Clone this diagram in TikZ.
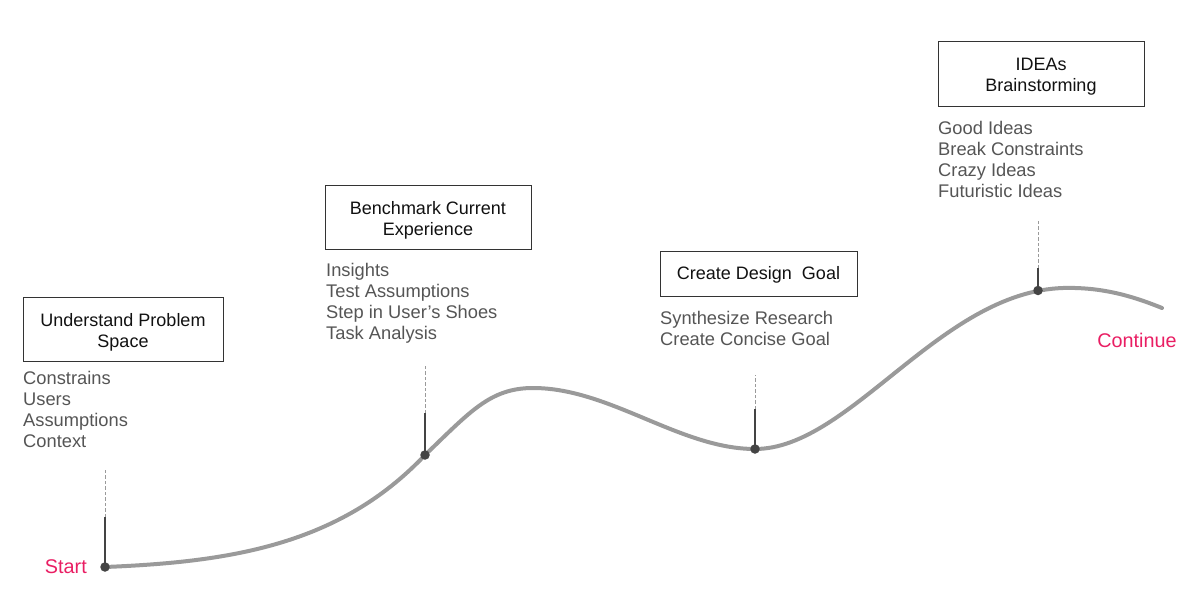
\documentclass[tikz,border=0pt]{standalone}
\usepackage{fontspec}
\setmainfont{Liberation Sans}
\definecolor{curvecol}{HTML}{9A9A9A}
\definecolor{stemcol}{HTML}{444444}
\definecolor{dashcol}{HTML}{9A9A9A}
\definecolor{boxtext}{HTML}{111111}
\definecolor{listtext}{HTML}{555555}
\definecolor{pinkcol}{HTML}{E91E63}
\definecolor{boxline}{HTML}{333333}
\begin{document}
\begin{tikzpicture}[x=1pt,y=-1pt,
  stagebox/.style={draw=boxline, line width=1pt, inner sep=0pt},
  stagetext/.style={align=center, inner sep=0pt,
    font=\fontsize{18}{21}\selectfont, text=boxtext},
  itemlist/.style={anchor=north west, align=left, inner sep=0pt,
    font=\fontsize{18.3}{21}\selectfont, text=listtext},
  endlabel/.style={inner sep=0pt, font=\fontsize{19.8}{22}\selectfont, text=pinkcol},
  curveline/.style={draw=curvecol, line width=4pt, line cap=round},
  stemline/.style={draw=stemcol, line width=2pt},
  dashline/.style={draw=dashcol, line width=1pt, dash pattern=on 3.5pt off 2pt},
  dotmark/.style={circle, fill=stemcol, inner sep=0pt, minimum size=9.5pt}]
\useasboundingbox (0,0) rectangle (1200,610);

% boxes
\node[stagebox, minimum width=200pt, minimum height=64pt] (b1) at (123,329) {};
\node[stagebox, minimum width=206pt, minimum height=64pt] (b2) at (428,217) {};
\node[stagebox, minimum width=197pt, minimum height=45pt] (b3) at (758.5,273.5) {};
\node[stagebox, minimum width=206pt, minimum height=64pt] (b4) at (1041,74) {};
\node[stagetext, yshift=-3pt] (t1) at (b1) {Understand Problem\\Space};
\node[stagetext, yshift=-3pt] (t2) at (b2) {Benchmark Current\\Experience};
\node[stagetext, yshift=-1.5pt] (t3) at (b3) {Create Design\ \ Goal};
\node[stagetext, yshift=-3pt] (t4) at (b4) {IDEAs\\Brainstorming};

% lists
\node[itemlist] (l1) at (23,371.2) {Constrains\\Users\\Assumptions\\Context};
\node[itemlist] (l2) at (326,263.2) {Insights\\Test Assumptions\\Step in User's Shoes\\Task Analysis};
\node[itemlist] (l3) at (660,311.2) {Synthesize Research\\Create Concise Goal};
\node[itemlist] (l4) at (938,121.2) {Good Ideas\\Break Constraints\\Crazy Ideas\\Futuristic Ideas};

% curve
\draw[curveline] (105,567) .. controls (230,562) and (340,545) .. (425,455)
  .. controls (470,412) and (490,388) .. (533,388)
  .. controls (610,388) and (680,449) .. (755,449)
  .. controls (850,449) and (940,292) .. (1063,288)
  .. controls (1100,287) and (1130,295) .. (1162,308);

% markers
\coordinate (p1) at (105,567);   \coordinate (s1) at (105,517); \coordinate (d1) at (105,468);
\coordinate (p2) at (425,455);   \coordinate (s2) at (425,413); \coordinate (d2) at (425,365);
\coordinate (p3) at (755,449);   \coordinate (s3) at (755,409); \coordinate (d3) at (755,375);
\coordinate (p4) at (1038,290.5);\coordinate (s4) at (1038,268); \coordinate (d4) at (1038,220);

\foreach \i in {1,2,3,4}{
  \draw[dashline] (s\i) -- (d\i);
  \draw[stemline] (p\i) -- (s\i);
  \node[dotmark] (m\i) at (p\i) {};
}

% end labels
\node[endlabel, anchor=east] (start) at (87,567) {Start};
\node[endlabel] (cont) at (1137,340) {Continue};
\end{tikzpicture}
\end{document}
